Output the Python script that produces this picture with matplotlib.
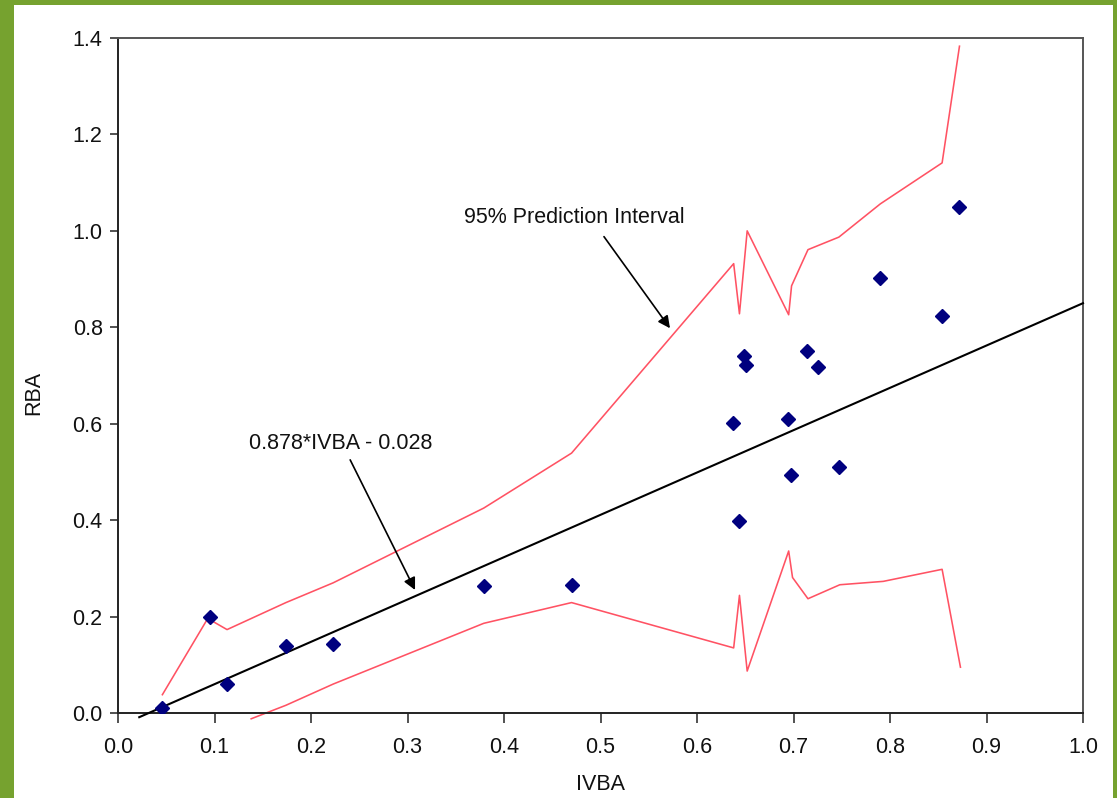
import matplotlib
matplotlib.use("Agg")
import matplotlib.pyplot as plt
from matplotlib.patches import Rectangle
import numpy as np

plt.rcParams['font.family'] = ['Liberation Sans', 'DejaVu Sans']

# --- data ---
ivba = [0.046, 0.095, 0.113, 0.174, 0.223, 0.379, 0.470, 0.637, 0.644, 0.649,
        0.651, 0.694, 0.697, 0.714, 0.725, 0.747, 0.790, 0.854, 0.872]
rba = [0.010, 0.200, 0.061, 0.140, 0.143, 0.263, 0.265, 0.602, 0.399, 0.741,
       0.722, 0.609, 0.493, 0.750, 0.718, 0.510, 0.902, 0.824, 1.049]

upper_x = [0.046, 0.093, 0.113, 0.174, 0.223, 0.379, 0.470, 0.638, 0.644, 0.652,
           0.695, 0.698, 0.715, 0.747, 0.790, 0.854, 0.872]
upper_y = [0.038, 0.196, 0.173, 0.229, 0.270, 0.425, 0.539, 0.932, 0.828, 1.000,
           0.826, 0.886, 0.961, 0.987, 1.056, 1.141, 1.383]

lower_x = [0.138, 0.174, 0.223, 0.379, 0.470, 0.638, 0.644, 0.652, 0.695, 0.699,
           0.715, 0.748, 0.793, 0.854, 0.873]
lower_y = [-0.012, 0.016, 0.060, 0.186, 0.229, 0.135, 0.244, 0.087, 0.336, 0.281,
           0.237, 0.266, 0.273, 0.298, 0.095]

slope = 0.878
intercept = -0.028
fit_range = [0.022, 1.0]

x_ticks = [0.0, 0.1, 0.2, 0.3, 0.4, 0.5, 0.6, 0.7, 0.8, 0.9, 1.0]
y_ticks = [0.0, 0.2, 0.4, 0.6, 0.8, 1.0, 1.2, 1.4]

pi_label = "95% Prediction Interval"
fit_label = "0.878*IVBA - 0.028"

# --- figure ---
W, H = 1117, 798
fig = plt.figure(figsize=(W / 100, H / 100), dpi=100)
fig.patch.set_facecolor('#76A22F')
fig.patches.append(Rectangle((14 / W, 0), (1113 - 14) / W, (798 - 5) / H,
                             transform=fig.transFigure, facecolor='white',
                             edgecolor='none', zorder=-10))

ax = fig.add_axes([118 / W, (H - 713) / H, (1083 - 118) / W, (713 - 38) / H])
ax.set_facecolor('white')

red = '#FF5263'
ax.plot(upper_x, upper_y, color=red, lw=1.15, zorder=2)
ax.plot(lower_x, lower_y, color=red, lw=1.15, zorder=2, clip_on=False)

fx = np.array(fit_range)
ax.plot(fx, slope * fx + intercept, color='black', lw=1.5, zorder=3, clip_on=False)

ax.plot(ivba, rba, linestyle='none', marker='D', markersize=6.8,
        color='#00007F', zorder=4)

ax.set_xlim(0, 1.0)
ax.set_ylim(0, 1.4)
ax.set_xticks(x_ticks)
ax.set_yticks(y_ticks)
ax.set_xticklabels([f"{v:.1f}" for v in x_ticks])
ax.set_yticklabels([f"{v:.1f}" for v in y_ticks])

for side, sp in ax.spines.items():
    sp.set_linewidth(1.4)
    sp.set_color('#222222' if side in ('left', 'bottom') else '#555555')

ax.tick_params(axis='x', direction='out', length=7, width=1.2, pad=10,
               labelsize=15.5, color='#333333', labelcolor='#111111')
ax.tick_params(axis='y', direction='out', length=6, width=1.2, pad=5,
               labelsize=15.5, color='#333333', labelcolor='#111111')

ax.set_xlabel('IVBA', fontsize=15.5, labelpad=12, color='#111111')
ax.set_ylabel('RBA', fontsize=15.5, color='#111111')
ax.yaxis.set_label_coords(-(118 - 44) / (1083 - 118), (713 - 393) / (713 - 38))

# annotations
ax.text(0.473, 1.028, pi_label, ha='center', va='center', fontsize=15.5,
        color='#111111')
ax.annotate('', xy=(0.572, 0.798), xytext=(0.5036, 0.988),
            arrowprops=dict(arrowstyle='-|>', color='black', lw=1.2,
                            mutation_scale=18, shrinkA=0, shrinkB=0))

ax.text(0.2306, 0.5595, fit_label, ha='center', va='center', fontsize=15.5,
        color='#111111')
ax.annotate('', xy=(0.3078, 0.2552), xytext=(0.2406, 0.525),
            arrowprops=dict(arrowstyle='-|>', color='black', lw=1.2,
                            mutation_scale=18, shrinkA=0, shrinkB=0))

fig.savefig('out.png', dpi=100, facecolor=fig.get_facecolor())
